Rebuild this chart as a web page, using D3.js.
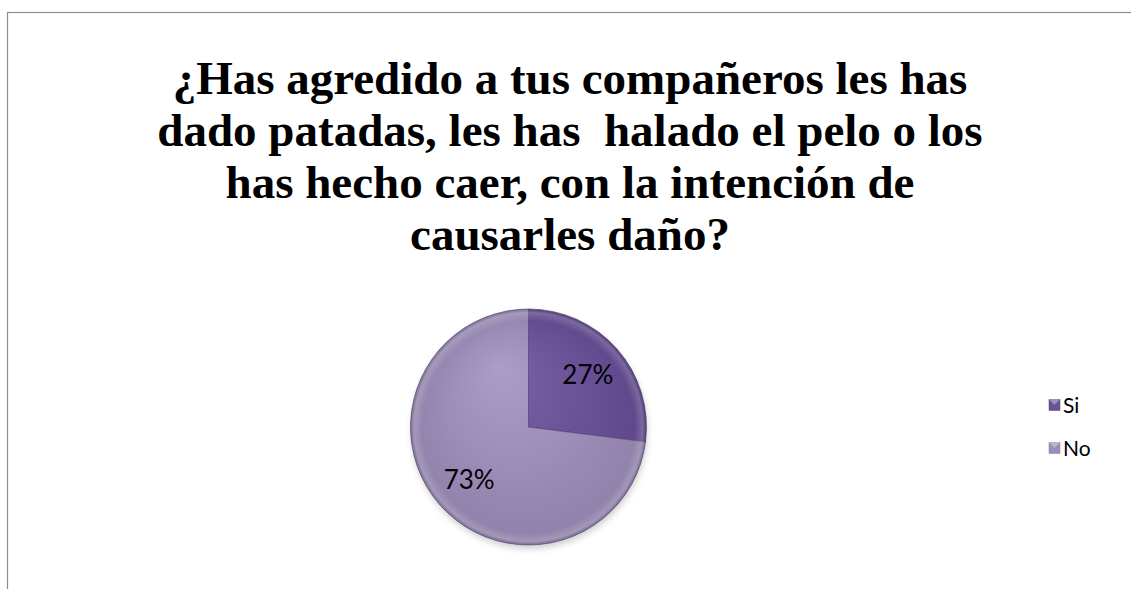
<!DOCTYPE html>
<html>
<head>
<meta charset="utf-8">
<script src="https://cdn.jsdelivr.net/npm/d3@7"></script>
<style>
  html, body { margin: 0; padding: 0; background: #fff; }
  svg { display: block; }
</style>
</head>
<body>
<svg id="chart" width="1131" height="589"></svg>
<script>
const titleLines = [
  "¿Has agredido a tus compañeros les has",
  "dado patadas, les has  halado el pelo o los",
  "has hecho caer, con la intención de",
  "causarles daño?"
];
const categories = ["Si", "No"];
const values = [27, 73];
const labels = ["27%", "73%"];

const svg = d3.select("#chart");
const defs = svg.append("defs");

// frame
svg.append("rect").attr("x", 7.5).attr("y", 12.5).attr("width", 1200).attr("height", 700)
  .attr("fill", "#fff").attr("stroke", "#8c8c8c").attr("stroke-width", 1.2);

// title
const title = svg.append("text")
  .attr("text-anchor", "middle")
  .attr("font-family", "'Liberation Serif', 'Times New Roman', serif")
  .attr("font-weight", "bold")
  .attr("font-size", 47)
  .attr("fill", "#000")
  .style("white-space", "pre");
titleLines.forEach((t, i) => {
  title.append("tspan").attr("x", 570).attr("y", 94 + i * 52).text(t);
});

// gradients
const colorStops = {
  Si: ["#7b63a8", "#6a5297", "#5d4588"],
  No: ["#aa9dc8", "#9b8cb8", "#8e80a8"]
};
categories.forEach(c => {
  const g = defs.append("radialGradient").attr("id", "g" + c)
    .attr("gradientUnits", "userSpaceOnUse")
    .attr("cx", 0).attr("cy", 0).attr("r", 125)
    .attr("fx", -30).attr("fy", -60);
  g.append("stop").attr("offset", "0%").attr("stop-color", colorStops[c][0]);
  g.append("stop").attr("offset", "55%").attr("stop-color", colorStops[c][1]);
  g.append("stop").attr("offset", "100%").attr("stop-color", colorStops[c][2]);
});
const sh = defs.append("filter").attr("id", "shadow").attr("x", "-20%").attr("y", "-20%").attr("width", "140%").attr("height", "140%");
sh.append("feGaussianBlur").attr("stdDeviation", 3);

const cx = 528.5, cy = 427, R = 118;
const pie = d3.pie().sort(null).value(d => d.v);
const arcs = pie(categories.map((c, i) => ({ c, v: values[i], l: labels[i] })));
const arc = d3.arc().innerRadius(0).outerRadius(R);
const labelArc = d3.arc().innerRadius(R * 0.67).outerRadius(R * 0.67);

const g = svg.append("g").attr("transform", `translate(${cx},${cy})`);
// shadow
g.append("circle").attr("cx", 1).attr("cy", 4).attr("r", R).attr("fill", "#bdbdbd").attr("filter", "url(#shadow)").attr("opacity", 0.7);

g.selectAll("path.slice").data(arcs).enter().append("path")
  .attr("class", "slice")
  .attr("d", arc)
  .attr("fill", d => `url(#g${d.data.c})`)
  .attr("stroke", "#4b3b6b").attr("stroke-width", 0.6);

// bevel highlight ring
const bevel = defs.append("radialGradient").attr("id", "bevel")
  .attr("gradientUnits", "userSpaceOnUse").attr("cx", 0).attr("cy", 0).attr("r", R);
bevel.append("stop").attr("offset", "90%").attr("stop-color", "#fff").attr("stop-opacity", 0);
bevel.append("stop").attr("offset", "97%").attr("stop-color", "#fff").attr("stop-opacity", 0.18);
bevel.append("stop").attr("offset", "100%").attr("stop-color", "#000").attr("stop-opacity", 0.12);
g.selectAll("path.bev").data(arcs).enter().append("path")
  .attr("class", "bev").attr("d", arc).attr("fill", "url(#bevel)");

g.selectAll("text.lbl").data(arcs).enter().append("text")
  .attr("class", "lbl")
  .attr("transform", d => `translate(${labelArc.centroid(d)})`)
  .attr("text-anchor", "middle").attr("dy", "0.36em")
  .attr("font-family", "Lato, 'Open Sans', sans-serif")
  .attr("font-size", 26).attr("fill", "#000")
  .text(d => d.data.l);

// legend
const legendY = d3.scalePoint().domain(categories).range([405, 448]);
const lg = svg.append("g");
categories.forEach(c => {
  const y = legendY(c);
  lg.append("rect").attr("x", 1049).attr("y", y - 5.5).attr("width", 11).attr("height", 11)
    .attr("fill", colorStops[c][1]).attr("stroke", colorStops[c][2]).attr("stroke-width", 0.5);
  lg.append("path").attr("d", `M${1049},${y - 5.5} L${1054.5},${y} L${1060},${y - 5.5} Z`)
    .attr("fill", "#fff").attr("opacity", 0.35);
  lg.append("text").attr("x", 1063).attr("y", y).attr("dy", "0.36em")
    .attr("font-family", "Lato, 'Open Sans', sans-serif").attr("font-size", 21).attr("fill", "#000")
    .text(c);
});
</script>
</body>
</html>
